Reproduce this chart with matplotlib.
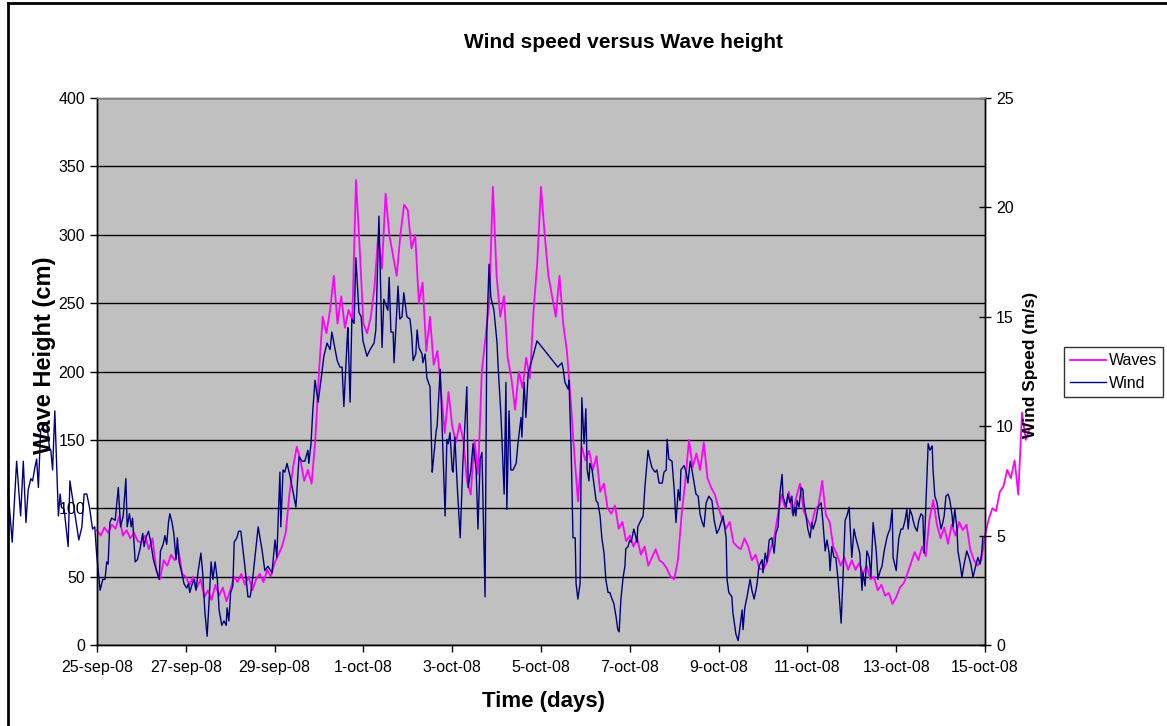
import numpy as np
import pandas as pd
import matplotlib
matplotlib.use("Agg")
import matplotlib.pyplot as plt
from matplotlib.lines import Line2D

plt.rcParams['font.family'] = ['Liberation Sans', 'DejaVu Sans']

#------------------------------------------------------------------------------
# Data
#------------------------------------------------------------------------------

start = pd.Timestamp('2008-09-25')
wave_step_h = 2

# wave height (cm), one value every 2 hours from 25-sep-08 00:00
wave_cm = [84, 80, 86, 82, 88, 85, 94, 80, 84, 78, 82, 76,
           75, 80, 70, 78, 55, 48, 62, 58, 66, 62, 70, 52,
           50, 44, 50, 42, 48, 35, 40, 33, 44, 36, 42, 32,
           40, 50, 46, 52, 44, 50, 40, 48, 52, 46, 55, 50,
           60, 66, 72, 82, 110, 130, 145, 135, 120, 128, 118, 150,
           200, 240, 228, 245, 270, 235, 255, 232, 245, 238, 340, 290,
           235, 228, 240, 262, 300, 275, 330, 300, 285, 270, 300, 322,
           318, 290, 300, 250, 265, 215, 240, 205, 215, 185, 155, 185,
           160, 148, 162, 150, 120, 110, 150, 125, 200, 225, 250, 335,
           270, 240, 255, 210, 195, 172, 200, 188, 210, 195, 245, 280,
           335, 300, 270, 255, 240, 270, 235, 215, 180, 140, 105, 145,
           135, 142, 128, 138, 112, 118, 100, 96, 102, 85, 90, 76,
           80, 72, 78, 66, 72, 58, 64, 70, 62, 60, 56, 50,
           48, 62, 95, 120, 150, 130, 140, 128, 148, 122, 115, 110,
           100, 92, 85, 90, 75, 72, 70, 78, 72, 62, 66, 56,
           55, 60, 70, 78, 95, 110, 100, 112, 96, 108, 118, 98,
           92, 86, 98, 102, 120, 95, 90, 72, 66, 58, 64, 55,
           62, 55, 60, 52, 58, 48, 50, 40, 44, 36, 38, 30,
           35, 42, 45, 52, 60, 68, 62, 72, 65, 92, 106, 88,
           78, 86, 74, 88, 80, 90, 84, 88, 70, 62, 58, 62,
           80, 92, 100, 98, 112, 116, 128, 122, 135, 110, 170, 150, 158]

# wind speed (m/s), time in days after 25-sep-08 00:00
wind_days = [-2.00, -1.91, -1.81, -1.72, -1.66, -1.60, -1.55, -1.49, -1.45, -1.40,
             -1.36, -1.32, -1.27, -1.21, -1.13, -1.07, -1.04, -1.00, -0.95, -0.87,
             -0.83, -0.80, -0.74, -0.65, -0.61, -0.50, -0.41, -0.34, -0.29, -0.23,
             -0.17, -0.10, -0.05, -0.01,
             0.07, 0.13, 0.18, 0.22, 0.25, 0.29, 0.33, 0.41, 0.48, 0.53, 0.59, 0.65,
             0.68, 0.73, 0.77, 0.80, 0.86, 0.91, 0.97,
             1.03, 1.06, 1.10, 1.16, 1.21, 1.27, 1.34, 1.40, 1.43, 1.49, 1.53, 1.57,
             1.61, 1.64, 1.69, 1.73, 1.78, 1.81, 1.85, 1.91, 1.96,
             2.02, 2.06, 2.09, 2.13, 2.18, 2.23, 2.28, 2.34, 2.38, 2.43, 2.48, 2.53,
             2.57, 2.61, 2.66, 2.71, 2.75, 2.81, 2.86, 2.91, 2.93, 2.97,
             3.01, 3.06, 3.09, 3.15, 3.19, 3.24, 3.28, 3.33, 3.40, 3.45, 3.51, 3.63,
             3.72, 3.78, 3.85, 3.94,
             4.01, 4.05, 4.12, 4.14, 4.19, 4.23, 4.28, 4.35, 4.48, 4.55, 4.62, 4.68,
             4.75, 4.77, 4.82, 4.86, 4.91, 4.98,
             5.05, 5.11, 5.18, 5.25, 5.29, 5.41, 5.47, 5.52, 5.56, 5.63, 5.65, 5.70,
             5.74, 5.79, 5.83, 5.90, 5.95, 5.99,
             6.08, 6.15, 6.24, 6.28, 6.35, 6.42, 6.46, 6.55, 6.58, 6.62, 6.67, 6.69,
             6.78, 6.82, 6.87, 6.91, 6.98,
             7.05, 7.09, 7.12, 7.18, 7.21, 7.25, 7.32, 7.34, 7.39, 7.43, 7.50, 7.55,
             7.57, 7.64, 7.66, 7.73, 7.84, 7.88, 7.91, 7.95,
             8.00, 8.02, 8.06, 8.11, 8.18, 8.24, 8.33, 8.36, 8.42, 8.47, 8.54, 8.58,
             8.63, 8.67, 8.74, 8.78, 8.83, 8.87, 8.94,
             9.01, 9.03, 9.10, 9.17, 9.21, 9.23, 9.28, 9.32, 9.37, 9.44, 9.48, 9.55,
             9.57, 9.62, 9.66, 9.71, 9.75, 9.82, 9.91,
             10.38, 10.47, 10.50, 10.54, 10.61, 10.63, 10.68, 10.72, 10.77, 10.79,
             10.83, 10.88, 10.90, 10.92, 10.97,
             11.01, 11.04, 11.08, 11.10, 11.15, 11.19, 11.24, 11.28, 11.33, 11.37,
             11.42, 11.46, 11.51, 11.55, 11.60, 11.64, 11.69, 11.73, 11.76, 11.80,
             11.85, 11.89, 11.91, 11.96,
             12.00, 12.03, 12.05, 12.09, 12.14, 12.16, 12.18, 12.25, 12.30, 12.34,
             12.41, 12.45, 12.50, 12.57, 12.61, 12.66, 12.73, 12.77, 12.82, 12.84,
             12.88, 12.95,
             13.00, 13.04, 13.09, 13.13, 13.15, 13.22, 13.27, 13.31, 13.36, 13.40,
             13.45, 13.49, 13.54, 13.58, 13.63, 13.67, 13.72, 13.78, 13.85, 13.90,
             13.96,
             14.01, 14.10, 14.17, 14.19, 14.23, 14.30, 14.32, 14.39, 14.44, 14.48,
             14.53, 14.55, 14.59, 14.64, 14.71, 14.75, 14.80, 14.86, 14.91, 14.98,
             15.00, 15.05, 15.09, 15.14, 15.20, 15.25, 15.29, 15.34, 15.38, 15.43,
             15.45, 15.52, 15.56, 15.61, 15.65, 15.68, 15.72, 15.74, 15.77, 15.81,
             15.86, 15.90, 15.92, 15.97,
             16.01, 16.06, 16.10, 16.13, 16.19, 16.24, 16.31, 16.35, 16.40, 16.44,
             16.49, 16.51, 16.55, 16.60, 16.64, 16.69, 16.76, 16.80, 16.85, 16.89,
             16.94,
             17.00, 17.05, 17.09, 17.14, 17.18, 17.23, 17.25, 17.30, 17.34, 17.39,
             17.43, 17.48, 17.55, 17.59, 17.64, 17.68, 17.73, 17.79, 17.82, 17.86,
             17.91, 17.93,
             18.00, 18.02, 18.06, 18.11, 18.15, 18.20, 18.24, 18.27, 18.31, 18.36,
             18.38, 18.42, 18.47, 18.51, 18.56, 18.60, 18.63, 18.67, 18.72, 18.76,
             18.81, 18.83, 18.87, 18.92, 18.96,
             19.01, 19.05, 19.08, 19.12, 19.17, 19.21, 19.26, 19.28, 19.32, 19.37,
             19.39, 19.44, 19.48, 19.53, 19.59, 19.64, 19.68, 19.73, 19.80, 19.84,
             19.89, 19.93, 19.95]

wind_ms = [7.0, 4.7, 8.4, 5.9, 8.4, 5.6, 7.1, 7.6, 7.5, 8.1,
           8.5, 7.2, 9.8, 10.0, 10.1, 9.0, 8.9, 8.0, 10.7, 5.9,
           6.9, 6.3, 6.2, 4.5, 7.5, 6.0, 4.8, 5.4, 6.9, 6.9,
           6.3, 5.3, 5.4, 4.2,
           2.5, 3.0, 3.0, 3.8, 3.7, 5.6, 5.8, 5.7, 7.2, 5.4, 5.9, 7.6,
           5.4, 6.0, 5.4, 5.8, 3.8, 3.9, 4.4,
           5.1, 4.5, 4.9, 5.2, 4.7, 3.9, 3.4, 3.0, 4.3, 4.6, 5.0, 4.6,
           5.6, 6.0, 5.6, 5.1, 3.9, 4.9, 3.8, 3.3, 2.8,
           2.6, 2.8, 2.4, 2.7, 3.0, 2.5, 3.4, 4.2, 3.3, 1.5, 0.4, 2.2,
           3.8, 3.0, 3.8, 3.0, 1.6, 0.9, 1.1, 0.9, 1.7, 1.1,
           2.4, 2.7, 4.7, 4.9, 5.2, 5.2, 4.5, 3.6, 2.2, 2.2, 3.1, 5.4,
           4.3, 3.4, 3.6, 3.3,
           4.8, 4.0, 7.9, 5.4, 8.0, 7.9, 8.3, 7.7, 6.3, 8.6, 8.4, 8.4,
           8.9, 8.3, 9.2, 10.7, 12.1, 11.1,
           12.2, 13.2, 13.8, 13.5, 14.3, 13.0, 12.7, 12.7, 10.9, 13.8, 14.5, 11.1,
           14.9, 14.7, 17.7, 15.2, 15.0, 13.9,
           13.2, 13.5, 13.8, 14.4, 19.6, 13.6, 15.8, 15.3, 16.8, 14.3, 14.3, 12.9,
           16.4, 14.9, 15.0, 16.1, 15.0,
           14.9, 14.1, 13.0, 13.3, 14.4, 13.6, 13.3, 12.9, 13.3, 12.2, 11.8, 7.9,
           8.3, 9.8, 10.0, 12.6, 5.9, 9.4, 9.2, 9.7,
           8.0, 7.9, 9.5, 7.4, 4.9, 8.3, 11.8, 7.2, 8.0, 9.2, 8.0, 5.3,
           8.5, 8.8, 2.2, 14.3, 17.4, 15.9, 15.3,
           13.8, 12.9, 10.4, 6.9, 12.0, 6.2, 10.7, 8.0, 8.0, 8.3, 9.2, 10.4,
           9.5, 12.0, 10.4, 12.4, 12.7, 13.2, 13.9,
           12.7, 12.9, 12.6, 12.0, 11.7, 12.1, 8.9, 4.9, 4.9, 2.8,
           2.1, 2.8, 7.4, 11.3, 9.2,
           10.8, 8.0, 7.5, 8.3, 8.0, 7.4, 6.6, 6.5, 5.9, 4.9,
           4.2, 3.0, 2.4, 2.4, 2.1, 1.9, 1.3, 0.7, 0.6, 2.1,
           3.1, 3.6, 4.4, 4.5,
           4.8, 4.7, 4.9, 5.3, 4.9, 4.7, 5.4, 5.7, 5.9, 7.2,
           8.9, 8.5, 8.1, 7.9, 8.0, 7.4, 7.4, 7.9, 8.0, 9.4,
           8.5, 8.4,
           7.1, 5.6, 7.1, 6.6, 8.0, 8.2, 7.9, 7.4, 8.4, 8.0,
           7.4, 6.9, 6.8, 6.0, 5.6, 5.4, 6.5, 6.8, 6.6, 5.7,
           5.1,
           5.3, 5.9, 4.9, 3.0, 2.4, 2.2, 1.5, 0.5, 0.2, 0.8,
           1.6, 0.7, 1.7, 2.2, 3.0, 2.5, 2.1, 2.7, 3.6, 3.9,
           3.3, 4.2, 3.8, 4.8, 4.9, 4.2, 5.1, 5.4, 6.9, 7.8,
           6.8, 6.3, 6.9, 6.5, 6.8, 5.9, 6.3, 5.9, 6.6, 6.3,
           7.2, 7.1, 6.5, 5.9,
           5.3, 4.9, 5.6, 5.3, 5.7, 6.3, 6.5, 5.6, 4.3, 4.8,
           4.2, 3.4, 4.5, 4.0, 4.0, 3.0, 1.0, 3.0, 5.7, 5.9,
           6.3,
           4.0, 5.3, 4.9, 4.5, 4.2, 2.5, 3.3, 2.7, 4.3, 4.0,
           3.1, 5.6, 4.3, 3.0, 3.4, 3.6, 4.3, 4.9, 5.1, 5.3,
           6.2, 4.0,
           3.4, 4.0, 4.9, 5.3, 5.3, 5.7, 6.2, 5.3, 6.2, 5.9,
           5.7, 5.4, 5.2, 5.7, 6.0, 5.9, 4.2, 6.5, 9.2, 8.9,
           9.1, 8.0, 6.8, 6.5, 5.9,
           5.3, 5.6, 5.9, 6.8, 6.9, 6.6, 5.9, 5.4, 6.2, 5.3,
           4.3, 3.7, 3.1, 3.7, 4.3, 4.0, 3.7, 3.1, 3.7, 4.0,
           3.7, 4.3, 4.9]

tick_dates = pd.date_range('2008-09-25', '2008-10-15', freq='2D')
tick_labels = ['%d-%s-08' % (d.day, d.strftime('%b').lower()) for d in tick_dates]

#------------------------------------------------------------------------------
# Plot
#------------------------------------------------------------------------------

wave_time = start + pd.to_timedelta(np.arange(len(wave_cm)) * wave_step_h, unit='h')
wind_time = start + pd.to_timedelta(wind_days, unit='D')

W, H = 1167, 726
fig = plt.figure(figsize=(W / 100, H / 100), dpi=100)
ax = fig.add_axes([97 / W, 81 / H, 888 / W, 547 / H])
ax.set_facecolor('#C0C0C0')
ax2 = ax.twinx()

l1, = ax.plot(wave_time, wave_cm, color='#FF00FF', lw=1.3, clip_on=False, label='Waves')
l2, = ax2.plot(wind_time, wind_ms, color='#000080', lw=1.0, clip_on=False, label='Wind')

ax.set_xlim(tick_dates[0], tick_dates[-1])
ax.set_ylim(0, 400)
ax2.set_ylim(0, 25)
ax.set_yticks(np.arange(0, 401, 50))
ax2.set_yticks(np.arange(0, 26, 5))
ax.set_xticks(tick_dates)
ax.set_xticklabels(tick_labels)

ax.set_axisbelow(True)
ax.yaxis.grid(True, color='black', lw=1.0)

for a in (ax, ax2):
    for s in a.spines.values():
        s.set_color('black')
        s.set_linewidth(1.0)
ax.spines['top'].set_color('#808080')
ax2.spines['top'].set_color('#808080')

ax.tick_params(axis='both', direction='out', length=5, labelsize=11.5, width=1)
ax.tick_params(axis='x', pad=6)
ax2.tick_params(axis='y', direction='inout', length=8, labelsize=11.5, width=1, pad=4)

fig.text(623 / W, 1 - 43 / H, 'Wind speed versus Wave height', ha='center', va='center',
         fontsize=15, fontweight='bold')
fig.text(543 / W, 1 - 702 / H, 'Time (days)', ha='center', va='center',
         fontsize=16, fontweight='bold')
fig.text(45 / W, 1 - 355 / H, 'Wave Height (cm)', ha='center', va='center',
         rotation=90, fontsize=17, fontweight='bold')
fig.text(1030 / W, 1 - 365 / H, 'Wind Speed (m/s)', ha='center', va='center',
         rotation=90, fontsize=12.5, fontweight='bold', zorder=10)

leg = fig.legend(handles=[l1, l2], loc='upper left', bbox_to_anchor=(1064 / W, 1 - 347 / H),
                 fontsize=11.5, frameon=True, fancybox=False, edgecolor='black',
                 borderpad=0.4, handlelength=2.2, handletextpad=0.2, labelspacing=0.45,
                 borderaxespad=0)
leg.get_frame().set_linewidth(1.0)

# chart area border (only top and left visible)
fig.add_artist(Line2D([8 / W, 8 / W], [0, 1 - 3 / H], transform=fig.transFigure, color='black', lw=2))
fig.add_artist(Line2D([8 / W, 1], [1 - 3 / H, 1 - 3 / H], transform=fig.transFigure, color='black', lw=2))

fig.savefig('out.png', dpi=100)
